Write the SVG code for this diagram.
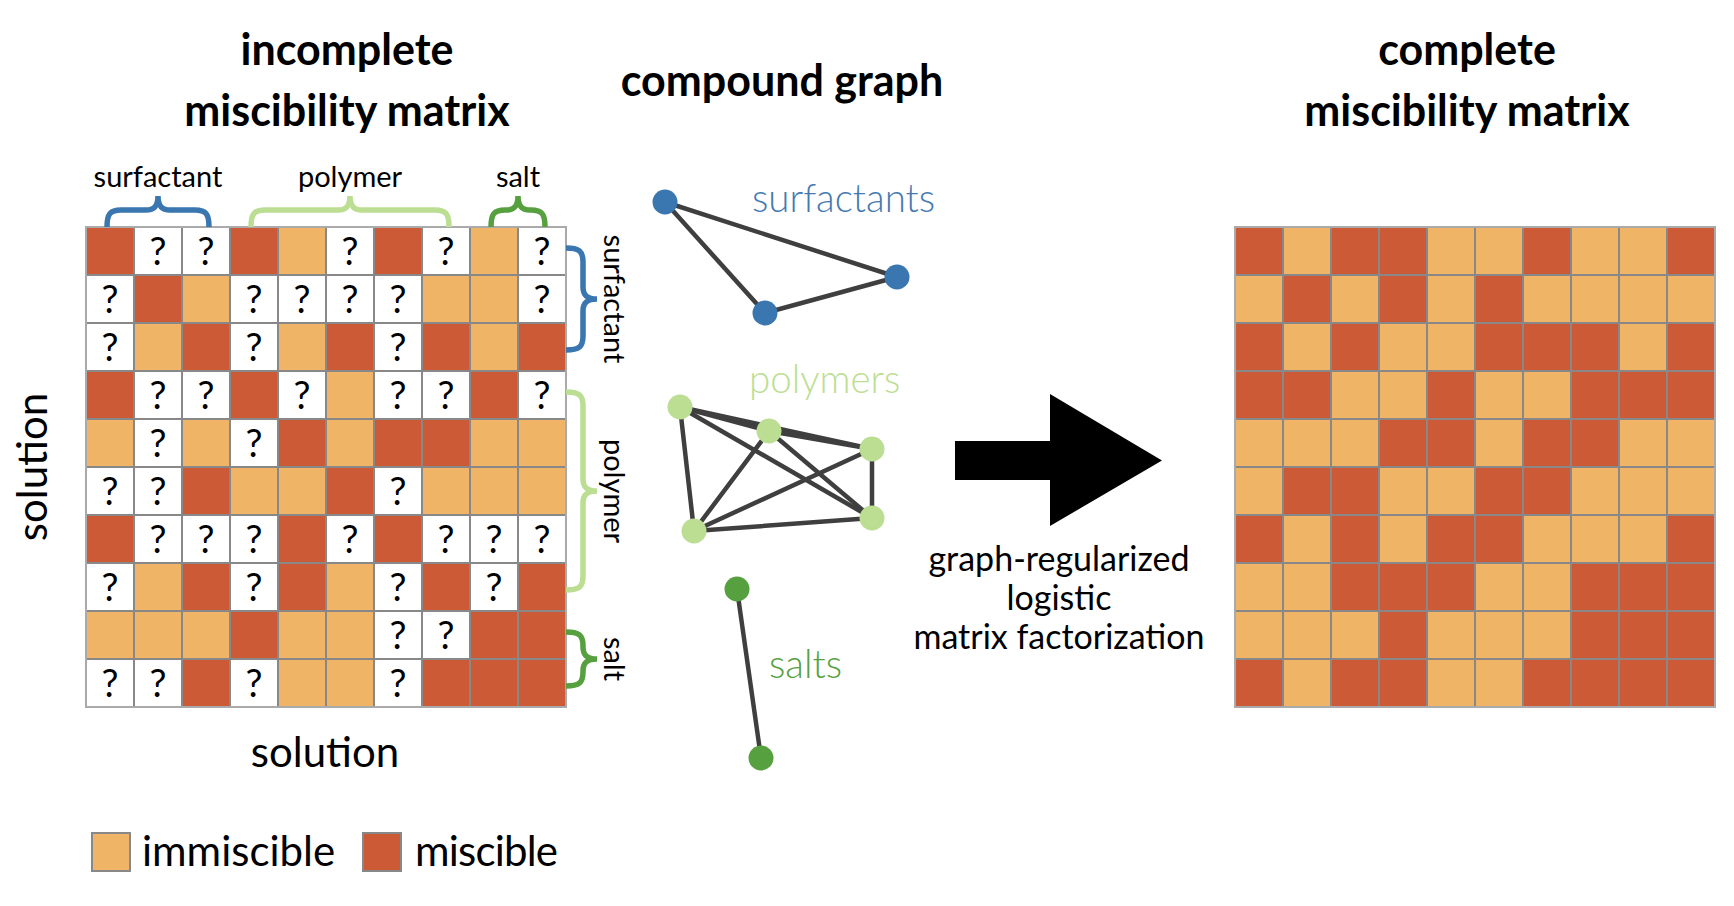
<svg xmlns="http://www.w3.org/2000/svg" width="1734" height="906" viewBox="0 0 1734 906">
<style>
text{font-family:Lato,"Open Sans","Liberation Sans",sans-serif;fill:#000}
.t{font-weight:700;font-size:43px;text-anchor:middle}
.lab{font-size:42px}
.br{font-size:29px;text-anchor:middle}
.q{font-size:38px;text-anchor:middle}
.m{fill:#CC5A36;stroke:#888;stroke-width:2}
.i{fill:#EFB465;stroke:#888;stroke-width:2}
.w{fill:#fff;stroke:#888;stroke-width:2}
.e{stroke:#3f3f3f;stroke-width:4.5;fill:none;stroke-linecap:round}
.brace{fill:none;stroke-width:5.5;stroke-linecap:butt}
.gl{font-size:38.5px;font-weight:300}
.cap{font-size:34px;text-anchor:middle}
</style>

<g id="titles">
<text class="t" x="347" y="65">incomplete</text>
<text class="t" x="347" y="126">miscibility matrix</text>
<text class="t" x="782" y="96">compound graph</text>
<text class="t" x="1467" y="65">complete</text>
<text class="t" x="1467" y="126">miscibility matrix</text>
</g>

<g id="incomplete-matrix">
<rect class="m" x="86" y="227" width="48" height="48"/><rect class="w" x="134" y="227" width="48" height="48"/><rect class="w" x="182" y="227" width="48" height="48"/><rect class="m" x="230" y="227" width="48" height="48"/><rect class="i" x="278" y="227" width="48" height="48"/><rect class="w" x="326" y="227" width="48" height="48"/><rect class="m" x="374" y="227" width="48" height="48"/><rect class="w" x="422" y="227" width="48" height="48"/><rect class="i" x="470" y="227" width="48" height="48"/><rect class="w" x="518" y="227" width="48" height="48"/>
<rect class="w" x="86" y="275" width="48" height="48"/><rect class="m" x="134" y="275" width="48" height="48"/><rect class="i" x="182" y="275" width="48" height="48"/><rect class="w" x="230" y="275" width="48" height="48"/><rect class="w" x="278" y="275" width="48" height="48"/><rect class="w" x="326" y="275" width="48" height="48"/><rect class="w" x="374" y="275" width="48" height="48"/><rect class="i" x="422" y="275" width="48" height="48"/><rect class="i" x="470" y="275" width="48" height="48"/><rect class="w" x="518" y="275" width="48" height="48"/>
<rect class="w" x="86" y="323" width="48" height="48"/><rect class="i" x="134" y="323" width="48" height="48"/><rect class="m" x="182" y="323" width="48" height="48"/><rect class="w" x="230" y="323" width="48" height="48"/><rect class="i" x="278" y="323" width="48" height="48"/><rect class="m" x="326" y="323" width="48" height="48"/><rect class="w" x="374" y="323" width="48" height="48"/><rect class="m" x="422" y="323" width="48" height="48"/><rect class="i" x="470" y="323" width="48" height="48"/><rect class="m" x="518" y="323" width="48" height="48"/>
<rect class="m" x="86" y="371" width="48" height="48"/><rect class="w" x="134" y="371" width="48" height="48"/><rect class="w" x="182" y="371" width="48" height="48"/><rect class="m" x="230" y="371" width="48" height="48"/><rect class="w" x="278" y="371" width="48" height="48"/><rect class="i" x="326" y="371" width="48" height="48"/><rect class="w" x="374" y="371" width="48" height="48"/><rect class="w" x="422" y="371" width="48" height="48"/><rect class="m" x="470" y="371" width="48" height="48"/><rect class="w" x="518" y="371" width="48" height="48"/>
<rect class="i" x="86" y="419" width="48" height="48"/><rect class="w" x="134" y="419" width="48" height="48"/><rect class="i" x="182" y="419" width="48" height="48"/><rect class="w" x="230" y="419" width="48" height="48"/><rect class="m" x="278" y="419" width="48" height="48"/><rect class="i" x="326" y="419" width="48" height="48"/><rect class="m" x="374" y="419" width="48" height="48"/><rect class="m" x="422" y="419" width="48" height="48"/><rect class="i" x="470" y="419" width="48" height="48"/><rect class="i" x="518" y="419" width="48" height="48"/>
<rect class="w" x="86" y="467" width="48" height="48"/><rect class="w" x="134" y="467" width="48" height="48"/><rect class="m" x="182" y="467" width="48" height="48"/><rect class="i" x="230" y="467" width="48" height="48"/><rect class="i" x="278" y="467" width="48" height="48"/><rect class="m" x="326" y="467" width="48" height="48"/><rect class="w" x="374" y="467" width="48" height="48"/><rect class="i" x="422" y="467" width="48" height="48"/><rect class="i" x="470" y="467" width="48" height="48"/><rect class="i" x="518" y="467" width="48" height="48"/>
<rect class="m" x="86" y="515" width="48" height="48"/><rect class="w" x="134" y="515" width="48" height="48"/><rect class="w" x="182" y="515" width="48" height="48"/><rect class="w" x="230" y="515" width="48" height="48"/><rect class="m" x="278" y="515" width="48" height="48"/><rect class="w" x="326" y="515" width="48" height="48"/><rect class="m" x="374" y="515" width="48" height="48"/><rect class="w" x="422" y="515" width="48" height="48"/><rect class="w" x="470" y="515" width="48" height="48"/><rect class="w" x="518" y="515" width="48" height="48"/>
<rect class="w" x="86" y="563" width="48" height="48"/><rect class="i" x="134" y="563" width="48" height="48"/><rect class="m" x="182" y="563" width="48" height="48"/><rect class="w" x="230" y="563" width="48" height="48"/><rect class="m" x="278" y="563" width="48" height="48"/><rect class="i" x="326" y="563" width="48" height="48"/><rect class="w" x="374" y="563" width="48" height="48"/><rect class="m" x="422" y="563" width="48" height="48"/><rect class="w" x="470" y="563" width="48" height="48"/><rect class="m" x="518" y="563" width="48" height="48"/>
<rect class="i" x="86" y="611" width="48" height="48"/><rect class="i" x="134" y="611" width="48" height="48"/><rect class="i" x="182" y="611" width="48" height="48"/><rect class="m" x="230" y="611" width="48" height="48"/><rect class="i" x="278" y="611" width="48" height="48"/><rect class="i" x="326" y="611" width="48" height="48"/><rect class="w" x="374" y="611" width="48" height="48"/><rect class="w" x="422" y="611" width="48" height="48"/><rect class="m" x="470" y="611" width="48" height="48"/><rect class="m" x="518" y="611" width="48" height="48"/>
<rect class="w" x="86" y="659" width="48" height="48"/><rect class="w" x="134" y="659" width="48" height="48"/><rect class="m" x="182" y="659" width="48" height="48"/><rect class="w" x="230" y="659" width="48" height="48"/><rect class="i" x="278" y="659" width="48" height="48"/><rect class="i" x="326" y="659" width="48" height="48"/><rect class="w" x="374" y="659" width="48" height="48"/><rect class="m" x="422" y="659" width="48" height="48"/><rect class="m" x="470" y="659" width="48" height="48"/><rect class="m" x="518" y="659" width="48" height="48"/>
<rect x="86" y="227" width="480" height="480" fill="none" stroke="#aaa" stroke-width="2"/>
<text class="q" x="158" y="265">?</text><text class="q" x="206" y="265">?</text><text class="q" x="350" y="265">?</text><text class="q" x="446" y="265">?</text><text class="q" x="542" y="265">?</text>
<text class="q" x="110" y="313">?</text><text class="q" x="254" y="313">?</text><text class="q" x="302" y="313">?</text><text class="q" x="350" y="313">?</text><text class="q" x="398" y="313">?</text><text class="q" x="542" y="313">?</text>
<text class="q" x="110" y="361">?</text><text class="q" x="254" y="361">?</text><text class="q" x="398" y="361">?</text>
<text class="q" x="158" y="409">?</text><text class="q" x="206" y="409">?</text><text class="q" x="302" y="409">?</text><text class="q" x="398" y="409">?</text><text class="q" x="446" y="409">?</text><text class="q" x="542" y="409">?</text>
<text class="q" x="158" y="457">?</text><text class="q" x="254" y="457">?</text>
<text class="q" x="110" y="505">?</text><text class="q" x="158" y="505">?</text><text class="q" x="398" y="505">?</text>
<text class="q" x="158" y="553">?</text><text class="q" x="206" y="553">?</text><text class="q" x="254" y="553">?</text><text class="q" x="350" y="553">?</text><text class="q" x="446" y="553">?</text><text class="q" x="494" y="553">?</text><text class="q" x="542" y="553">?</text>
<text class="q" x="110" y="601">?</text><text class="q" x="254" y="601">?</text><text class="q" x="398" y="601">?</text><text class="q" x="494" y="601">?</text>
<text class="q" x="398" y="649">?</text><text class="q" x="446" y="649">?</text>
<text class="q" x="110" y="697">?</text><text class="q" x="158" y="697">?</text><text class="q" x="254" y="697">?</text><text class="q" x="398" y="697">?</text>
</g>

<g id="matrix-braces">
<path class="brace" stroke="#3A76AF" d="M107,227 C107,214 110,210 121,210 L146,210 C154,210 158,206 158,196 C158,206 162,210 170,210 L195,210 C206,210 209,214 209,227"/>
<path class="brace" stroke="#BCDE93" d="M251,227 C251,214 254,210 265,210 L338,210 C346,210 350,206 350,196 C350,206 354,210 362,210 L435,210 C446,210 449,214 449,227"/>
<path class="brace" stroke="#56A03F" d="M491,227 C491,214 494,210 505,210 L506,210 C514,210 518,206 518,196 C518,206 522,210 530,210 L531,210 C542,210 545,214 545,227"/>
<path class="brace" stroke="#3A76AF" d="M566,248 C579,248 583,251 583,262 L583,287 C583,295 587,299 597,299 C587,299 583,303 583,311 L583,336 C583,347 579,350 566,350"/>
<path class="brace" stroke="#BCDE93" d="M566,392 C579,392 583,395 583,406 L583,479 C583,487 587,491 597,491 C587,491 583,495 583,503 L583,576 C583,587 579,590 566,590"/>
<path class="brace" stroke="#56A03F" d="M566,632 C579,632 583,635 583,646 L583,647 C583,655 587,659 597,659 C587,659 583,663 583,671 L583,672 C583,683 579,686 566,686"/>
<text class="br" x="158" y="187">surfactant</text>
<text class="br" x="350" y="187">polymer</text>
<text class="br" x="518" y="187">salt</text>
<text class="br" transform="translate(604,299) rotate(90)">surfactant</text>
<text class="br" transform="translate(604,491) rotate(90)">polymer</text>
<text class="br" transform="translate(604,659) rotate(90)">salt</text>
</g>

<g id="axis-labels">
<text class="lab" text-anchor="middle" transform="translate(47,467) rotate(-90)">solution</text>
<text class="lab" text-anchor="middle" x="325" y="767">solution</text>
</g>

<g id="legend">
<rect class="i" x="92" y="833" width="38" height="38"/>
<text class="lab" x="142" y="866">immiscible</text>
<rect class="m" x="363" y="833" width="38" height="38"/>
<text class="lab" x="415" y="866" textLength="143">miscible</text>
</g>

<g id="connectors">
<line class="e" x1="665" y1="202" x2="897" y2="277"/>
<line class="e" x1="665" y1="202" x2="765" y2="313"/>
<line class="e" x1="765" y1="313" x2="897" y2="277"/>
<line class="e" x1="680" y1="407" x2="769" y2="431"/>
<line class="e" x1="680" y1="407" x2="872" y2="449"/>
<line class="e" x1="769" y1="431" x2="872" y2="449"/>
<line class="e" x1="680" y1="407" x2="872" y2="518"/>
<line class="e" x1="680" y1="407" x2="694" y2="531"/>
<line class="e" x1="769" y1="431" x2="872" y2="518"/>
<line class="e" x1="769" y1="431" x2="694" y2="531"/>
<line class="e" x1="872" y1="449" x2="694" y2="531"/>
<line class="e" x1="872" y1="449" x2="872" y2="518"/>
<line class="e" x1="694" y1="531" x2="872" y2="518"/>
<line class="e" x1="737" y1="589" x2="761" y2="758"/>
</g>

<g id="surfactant-s1"><circle cx="665" cy="202" r="12.5" fill="#3A76AF"/></g>
<g id="surfactant-s2"><circle cx="897" cy="277" r="12.5" fill="#3A76AF"/></g>
<g id="surfactant-s3"><circle cx="765" cy="313" r="12.5" fill="#3A76AF"/></g>
<g id="polymer-p1"><circle cx="680" cy="407" r="12.5" fill="#BCDE93"/></g>
<g id="polymer-p2"><circle cx="769" cy="431" r="12.5" fill="#BCDE93"/></g>
<g id="polymer-p3"><circle cx="872" cy="449" r="12.5" fill="#BCDE93"/></g>
<g id="polymer-p4"><circle cx="872" cy="518" r="12.5" fill="#BCDE93"/></g>
<g id="polymer-p5"><circle cx="694" cy="531" r="12.5" fill="#BCDE93"/></g>
<g id="salt-t1"><circle cx="737" cy="589" r="12.5" fill="#56A03F"/></g>
<g id="salt-t2"><circle cx="761" cy="758" r="12.5" fill="#56A03F"/></g>

<g id="graph-labels">
<text class="gl" x="752" y="212" style="fill:#4479B2">surfactants</text>
<text class="gl" x="749" y="393" style="fill:#BCDE93">polymers</text>
<text class="gl" x="769" y="678" style="fill:#56A03F">salts</text>
</g>

<g id="arrow">
<polygon points="955,441 1050,441 1050,394 1162,460.5 1050,526 1050,480 955,480" fill="#000"/>
<text class="cap" x="1059" y="571">graph-regularized</text>
<text class="cap" x="1059" y="610">logistic</text>
<text class="cap" x="1059" y="649">matrix factorization</text>
</g>

<g id="complete-matrix">
<rect class="m" x="1235" y="227" width="48" height="48"/><rect class="i" x="1283" y="227" width="48" height="48"/><rect class="m" x="1331" y="227" width="48" height="48"/><rect class="m" x="1379" y="227" width="48" height="48"/><rect class="i" x="1427" y="227" width="48" height="48"/><rect class="i" x="1475" y="227" width="48" height="48"/><rect class="m" x="1523" y="227" width="48" height="48"/><rect class="i" x="1571" y="227" width="48" height="48"/><rect class="i" x="1619" y="227" width="48" height="48"/><rect class="m" x="1667" y="227" width="48" height="48"/>
<rect class="i" x="1235" y="275" width="48" height="48"/><rect class="m" x="1283" y="275" width="48" height="48"/><rect class="i" x="1331" y="275" width="48" height="48"/><rect class="m" x="1379" y="275" width="48" height="48"/><rect class="i" x="1427" y="275" width="48" height="48"/><rect class="m" x="1475" y="275" width="48" height="48"/><rect class="i" x="1523" y="275" width="48" height="48"/><rect class="i" x="1571" y="275" width="48" height="48"/><rect class="i" x="1619" y="275" width="48" height="48"/><rect class="i" x="1667" y="275" width="48" height="48"/>
<rect class="m" x="1235" y="323" width="48" height="48"/><rect class="i" x="1283" y="323" width="48" height="48"/><rect class="m" x="1331" y="323" width="48" height="48"/><rect class="i" x="1379" y="323" width="48" height="48"/><rect class="i" x="1427" y="323" width="48" height="48"/><rect class="m" x="1475" y="323" width="48" height="48"/><rect class="m" x="1523" y="323" width="48" height="48"/><rect class="m" x="1571" y="323" width="48" height="48"/><rect class="i" x="1619" y="323" width="48" height="48"/><rect class="m" x="1667" y="323" width="48" height="48"/>
<rect class="m" x="1235" y="371" width="48" height="48"/><rect class="m" x="1283" y="371" width="48" height="48"/><rect class="i" x="1331" y="371" width="48" height="48"/><rect class="i" x="1379" y="371" width="48" height="48"/><rect class="m" x="1427" y="371" width="48" height="48"/><rect class="i" x="1475" y="371" width="48" height="48"/><rect class="i" x="1523" y="371" width="48" height="48"/><rect class="m" x="1571" y="371" width="48" height="48"/><rect class="m" x="1619" y="371" width="48" height="48"/><rect class="m" x="1667" y="371" width="48" height="48"/>
<rect class="i" x="1235" y="419" width="48" height="48"/><rect class="i" x="1283" y="419" width="48" height="48"/><rect class="i" x="1331" y="419" width="48" height="48"/><rect class="m" x="1379" y="419" width="48" height="48"/><rect class="m" x="1427" y="419" width="48" height="48"/><rect class="i" x="1475" y="419" width="48" height="48"/><rect class="m" x="1523" y="419" width="48" height="48"/><rect class="m" x="1571" y="419" width="48" height="48"/><rect class="i" x="1619" y="419" width="48" height="48"/><rect class="i" x="1667" y="419" width="48" height="48"/>
<rect class="i" x="1235" y="467" width="48" height="48"/><rect class="m" x="1283" y="467" width="48" height="48"/><rect class="m" x="1331" y="467" width="48" height="48"/><rect class="i" x="1379" y="467" width="48" height="48"/><rect class="i" x="1427" y="467" width="48" height="48"/><rect class="m" x="1475" y="467" width="48" height="48"/><rect class="m" x="1523" y="467" width="48" height="48"/><rect class="i" x="1571" y="467" width="48" height="48"/><rect class="i" x="1619" y="467" width="48" height="48"/><rect class="i" x="1667" y="467" width="48" height="48"/>
<rect class="m" x="1235" y="515" width="48" height="48"/><rect class="i" x="1283" y="515" width="48" height="48"/><rect class="m" x="1331" y="515" width="48" height="48"/><rect class="i" x="1379" y="515" width="48" height="48"/><rect class="m" x="1427" y="515" width="48" height="48"/><rect class="m" x="1475" y="515" width="48" height="48"/><rect class="i" x="1523" y="515" width="48" height="48"/><rect class="i" x="1571" y="515" width="48" height="48"/><rect class="i" x="1619" y="515" width="48" height="48"/><rect class="m" x="1667" y="515" width="48" height="48"/>
<rect class="i" x="1235" y="563" width="48" height="48"/><rect class="i" x="1283" y="563" width="48" height="48"/><rect class="m" x="1331" y="563" width="48" height="48"/><rect class="m" x="1379" y="563" width="48" height="48"/><rect class="m" x="1427" y="563" width="48" height="48"/><rect class="i" x="1475" y="563" width="48" height="48"/><rect class="i" x="1523" y="563" width="48" height="48"/><rect class="m" x="1571" y="563" width="48" height="48"/><rect class="m" x="1619" y="563" width="48" height="48"/><rect class="m" x="1667" y="563" width="48" height="48"/>
<rect class="i" x="1235" y="611" width="48" height="48"/><rect class="i" x="1283" y="611" width="48" height="48"/><rect class="i" x="1331" y="611" width="48" height="48"/><rect class="m" x="1379" y="611" width="48" height="48"/><rect class="i" x="1427" y="611" width="48" height="48"/><rect class="i" x="1475" y="611" width="48" height="48"/><rect class="i" x="1523" y="611" width="48" height="48"/><rect class="m" x="1571" y="611" width="48" height="48"/><rect class="m" x="1619" y="611" width="48" height="48"/><rect class="m" x="1667" y="611" width="48" height="48"/>
<rect class="m" x="1235" y="659" width="48" height="48"/><rect class="i" x="1283" y="659" width="48" height="48"/><rect class="m" x="1331" y="659" width="48" height="48"/><rect class="m" x="1379" y="659" width="48" height="48"/><rect class="i" x="1427" y="659" width="48" height="48"/><rect class="i" x="1475" y="659" width="48" height="48"/><rect class="m" x="1523" y="659" width="48" height="48"/><rect class="m" x="1571" y="659" width="48" height="48"/><rect class="m" x="1619" y="659" width="48" height="48"/><rect class="m" x="1667" y="659" width="48" height="48"/>
<rect x="1235" y="227" width="480" height="480" fill="none" stroke="#aaa" stroke-width="2"/>
</g>
</svg>
